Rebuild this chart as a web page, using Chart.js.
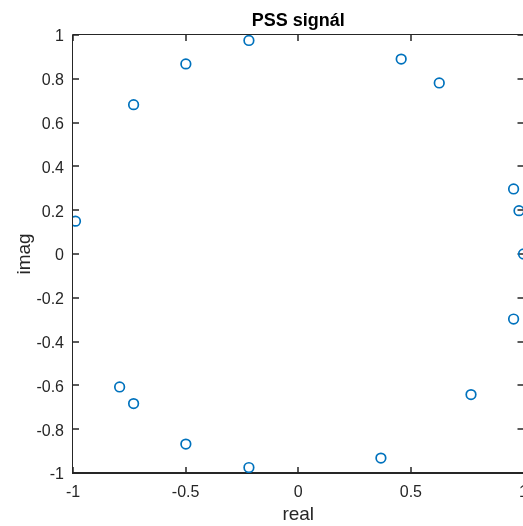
<!DOCTYPE html>
<html lang="cs">
<head>
    <meta charset="UTF-8">
    <title>PSS signál</title>
    <script src="https://cdn.jsdelivr.net/npm/chart.js"></script>
    <style>
        html, body { margin: 0; padding: 0; background: #fff; overflow: hidden; }
        /* the right edge of the axes sits just past the window, as in the original */
        #pssChart { position: absolute; left: 0; top: 0; }
    </style>
</head>
<body>
    <canvas id="pssChart" width="530" height="526"></canvas>
    <script>
        // PSS samples
        const realPart = [-0.989, -0.731, -0.499, -0.219, 0.457, 0.626, 0.956, 0.980, 1.000,
                          0.956, 0.767, 0.367, -0.219, -0.499, -0.731, -0.793];
        const imagPart = [0.150, 0.682, 0.868, 0.975, 0.890, 0.781, 0.297, 0.198, 0.000,
                          -0.297, -0.642, -0.932, -0.975, -0.868, -0.683, -0.607];
        const xTicks = [-1, -0.5, 0, 0.5, 1];
        const yTicks = [-1, -0.8, -0.6, -0.4, -0.2, 0, 0.2, 0.4, 0.6, 0.8, 1];

        const axisColor = '#262626';
        const fontFamily = '"Liberation Sans", Arial, Helvetica, sans-serif';

        const points = realPart.map((re, i) => ({ x: re, y: imagPart[i] }));

        // MATLAB style box with inward ticks on all four sides
        const boxPlugin = {
            id: 'matlabBox',
            beforeDatasetsDraw(chart) {
                const { ctx, chartArea: a, scales: { x, y } } = chart;
                const len = 6;
                ctx.save();
                ctx.strokeStyle = axisColor;
                ctx.lineWidth = 1;
                ctx.beginPath();
                ctx.moveTo(a.left - 0.5, a.top - 0.5);
                ctx.lineTo(a.right + 0.5, a.top - 0.5);
                ctx.moveTo(a.left - 0.5, a.top - 0.5);
                ctx.lineTo(a.left - 0.5, a.bottom);
                ctx.moveTo(a.right + 0.5, a.top - 0.5);
                ctx.lineTo(a.right + 0.5, a.bottom);
                ctx.stroke();
                ctx.lineWidth = 2;
                ctx.beginPath();
                ctx.moveTo(a.left - 1, a.bottom);
                ctx.lineTo(a.right + 1, a.bottom);
                ctx.stroke();

                ctx.lineWidth = 1.5;
                ctx.beginPath();
                x.ticks.forEach(t => {
                    const px = Math.round(x.getPixelForValue(t.value));
                    ctx.moveTo(px, a.bottom); ctx.lineTo(px, a.bottom - len);
                    ctx.moveTo(px, a.top); ctx.lineTo(px, a.top + len);
                });
                y.ticks.forEach(t => {
                    const py = Math.round(y.getPixelForValue(t.value));
                    ctx.moveTo(a.left, py); ctx.lineTo(a.left + len, py);
                    ctx.moveTo(a.right, py); ctx.lineTo(a.right - len, py);
                });
                ctx.stroke();
                ctx.restore();
            }
        };

        const ctx = document.getElementById('pssChart').getContext('2d');
        const pssChart = new Chart(ctx, {
            type: 'scatter',
            data: {
                datasets: [{
                    label: 'PSS',
                    data: points,
                    borderColor: '#0072BD',
                    backgroundColor: 'rgba(0,0,0,0)',
                    pointRadius: 4.8,
                    pointBorderWidth: 1.7,
                    pointHoverRadius: 4.8
                }]
            },
            options: {
                responsive: false,
                animation: false,
                layout: { padding: { left: 0, right: 4, top: 0, bottom: 0 } },
                plugins: {
                    legend: { display: false },
                    tooltip: { enabled: false },
                    title: {
                        display: true,
                        text: 'PSS signál',
                        fullSize: false,
                        color: '#000',
                        font: { family: fontFamily, size: 18, weight: 'bold' },
                        padding: { top: 10, bottom: 3.4 }
                    }
                },
                scales: {
                    x: {
                        type: 'linear',
                        position: 'bottom',
                        min: -1,
                        max: 1,
                        afterBuildTicks: s => { s.ticks = xTicks.map(v => ({ value: v })); },
                        afterFit: s => {
                            s.height = 53;
                            // don't let the edge labels shrink the plot box
                            s.paddingLeft = 0;
                            s.paddingRight = 4;
                        },
                        grid: { display: false, drawTicks: false },
                        border: { display: false },
                        ticks: {
                            color: axisColor,
                            padding: 10,
                            maxRotation: 0,
                            font: { family: fontFamily, size: 16 },
                            callback: v => String(v)
                        },
                        title: {
                            display: true,
                            text: 'real',
                            color: axisColor,
                            font: { family: fontFamily, size: 19 },
                            padding: { top: 0, bottom: 0 }
                        }
                    },
                    y: {
                        type: 'linear',
                        min: -1,
                        max: 1,
                        afterBuildTicks: s => { s.ticks = yTicks.map(v => ({ value: v })); },
                        afterFit: s => { s.width = 73; },
                        grid: { display: false, drawTicks: false },
                        border: { display: false },
                        ticks: {
                            color: axisColor,
                            padding: 9,
                            labelOffset: 2,
                            font: { family: fontFamily, size: 16 },
                            callback: v => String(v)
                        },
                        title: {
                            display: true,
                            text: 'imag',
                            color: axisColor,
                            font: { family: fontFamily, size: 19 },
                            padding: { top: 13, bottom: 0 }
                        }
                    }
                }
            },
            plugins: [boxPlugin]
        });
    </script>
</body>
</html>
